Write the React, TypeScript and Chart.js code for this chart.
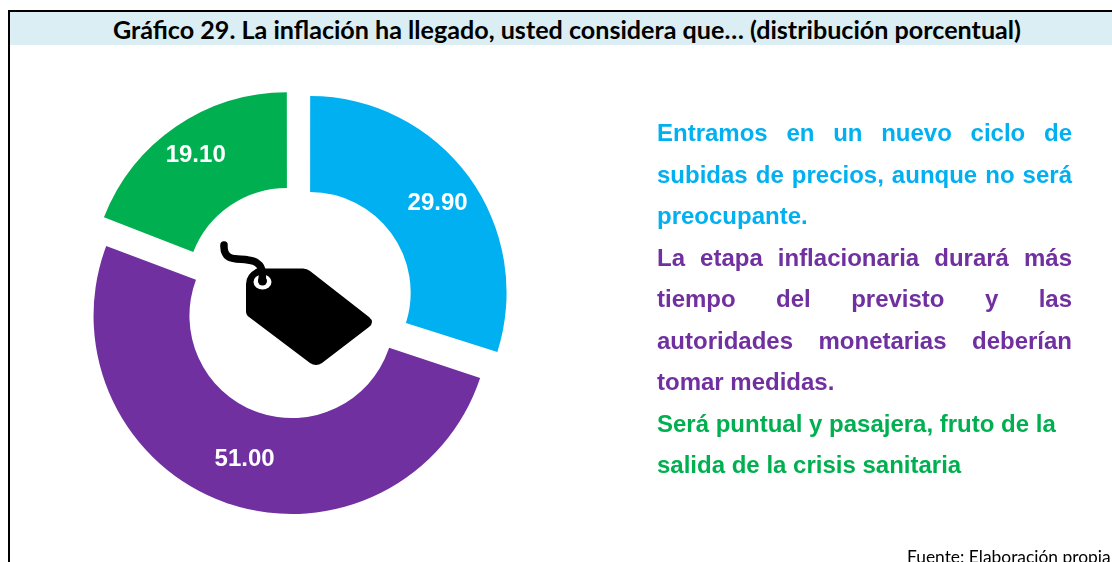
import React, { useEffect, useRef } from "react";
import { Chart, registerables } from "chart.js";

Chart.register(...registerables);

const categories = [
  "Entramos en un nuevo ciclo de subidas de precios, aunque no será preocupante.",
  "La etapa inflacionaria durará más tiempo del previsto y las autoridades monetarias deberían tomar medidas.",
  "Será puntual y pasajera, fruto de la salida de la crisis sanitaria",
];
const values = [29.9, 51.0, 19.1];
const valueLabels = ["29.90", "51.00", "19.10"];
const colors = ["#00B0F0", "#7030A0", "#00B050"];
const sliceOffsets = [67.2, 56, 67.2]; // Chart.js moves an arc by a quarter of this
const sliceRadiusExtra = [0, 1.8, 0];
const labelRadii = [172.6, 165.3, 178.5];
const labelAngleNudges = [1.0, -1.14, 0];

const title = "Gráfico 29. La inflación ha llegado, usted considera que… (distribución porcentual)";
const source = "Fuente: Elaboración propia";

const textLines: [string, number, boolean][] = [
  ["Entramos en un nuevo ciclo de", 0, true],
  ["subidas de precios, aunque no será", 0, true],
  ["preocupante.", 0, false],
  ["La etapa inflacionaria durará más", 1, true],
  ["tiempo del previsto y las", 1, true],
  ["autoridades monetarias deberían", 1, true],
  ["tomar medidas.", 1, false],
  ["Será puntual y pasajera, fruto de la", 2, false],
  ["salida de la crisis sanitaria", 2, false],
];

// Chart.js also grows each arc's radius as a side effect of the offset; cancel that growth.
const keepRadius = {
  id: "keepRadius",
  beforeDatasetsDraw(chart: any) {
    const meta = chart.getDatasetMeta(0);
    const outer = meta.controller.outerRadius;
    const inner = meta.controller.innerRadius;
    meta.data.forEach((arc: any, i: number) => {
      const growth = (sliceOffsets[i] / 4) * (1 - Math.sin(Math.min(Math.PI, arc.circumference)));
      arc.outerRadius = outer - growth + sliceRadiusExtra[i];
      arc.innerRadius = inner - growth + sliceRadiusExtra[i];
    });
  },
};

const sliceLabels = {
  id: "sliceLabels",
  afterDatasetsDraw(chart: any) {
    const { ctx } = chart;
    const arcs = chart.getDatasetMeta(0).data;
    ctx.save();
    ctx.fillStyle = "#FFFFFF";
    ctx.font = 'bold 24px "Liberation Sans"';
    ctx.textAlign = "center";
    ctx.textBaseline = "middle";
    arcs.forEach((arc: any, i: number) => {
      const mid = (arc.startAngle + arc.endAngle) / 2 + (labelAngleNudges[i] * Math.PI) / 180;
      ctx.fillText(
        valueLabels[i],
        arc.x + Math.cos(mid) * labelRadii[i],
        arc.y + Math.sin(mid) * labelRadii[i]
      );
    });
    ctx.restore();
  },
};

export default function App() {
  const ref = useRef<HTMLCanvasElement>(null);

  useEffect(() => {
    const chart = new Chart(ref.current as HTMLCanvasElement, {
      type: "doughnut",
      data: {
        labels: categories,
        datasets: [
          {
            data: values,
            backgroundColor: colors,
            borderWidth: 0,
            offset: sliceOffsets,
          } as any,
        ],
      },
      options: {
        animation: false,
        responsive: false,
        radius: 196.5,
        cutout: "51.2%",
        plugins: { legend: { display: false }, tooltip: { enabled: false } },
      } as any,
      plugins: [keepRadius, sliceLabels],
    });
    return () => chart.destroy();
  }, []);

  return (
    <div style={{ position: "absolute", left: 0, top: 0, width: 1112, height: 562, overflow: "hidden", background: "#fff" }}>
      <div style={{ position: "absolute", left: 8, top: 10, width: 1104, height: 2, background: "#000" }} />
      <div style={{ position: "absolute", left: 8, top: 10, width: 2, height: 552, background: "#000" }} />
      <div
        style={{
          position: "absolute", left: 10, top: 12, width: 1102, height: 33, background: "#DAEEF3",
          font: "bold 25.14px Lato", color: "#000", lineHeight: "35px", whiteSpace: "nowrap",
        }}
      >
        <span style={{ position: "absolute", left: 103 }}>{title}</span>
      </div>
      <canvas ref={ref} width={449} height={449} style={{ position: "absolute", left: 72, top: 78, width: 449, height: 449 }} />
      <svg width={1112} height={562} style={{ position: "absolute", left: 0, top: 0, pointerEvents: "none" }}>
        <path
          d="M246 284 Q246 274 257 268.5 L303 268.5 Q307 268.5 310 271 L369 317 Q375 322 369 327 L322 363 Q316 367 310 363 L249 317 Q246 315 246 311 Z"
          fill="#000"
        />
        <ellipse cx={262.5} cy={282} rx={9} ry={7.5} fill="#fff" />
        <ellipse cx={262.5} cy={281} rx={4.5} ry={4.5} fill="#000" />
        <path d="M224 245 C223 262 238 258 248 260 C258 261 264 266 262 280" fill="none" stroke="#000" strokeWidth={7.5} strokeLinecap="round" />
      </svg>
      <div style={{ position: "absolute", left: 657, top: 112, width: 415, font: 'bold 24px "Liberation Sans"' }}>
        {textLines.map(([line, series, justify], i) => (
          <div
            key={i}
            style={{
              height: 41.5, lineHeight: "41.5px", color: colors[series], whiteSpace: "normal",
              textAlign: justify ? "justify" : "left", textAlignLast: justify ? "justify" : "left",
            }}
          >
            {line}
          </div>
        ))}
      </div>
      <div style={{ position: "absolute", left: 907, top: 546, font: "17.4px Lato", color: "#000", whiteSpace: "nowrap" }}>{source}</div>
    </div>
  );
}
